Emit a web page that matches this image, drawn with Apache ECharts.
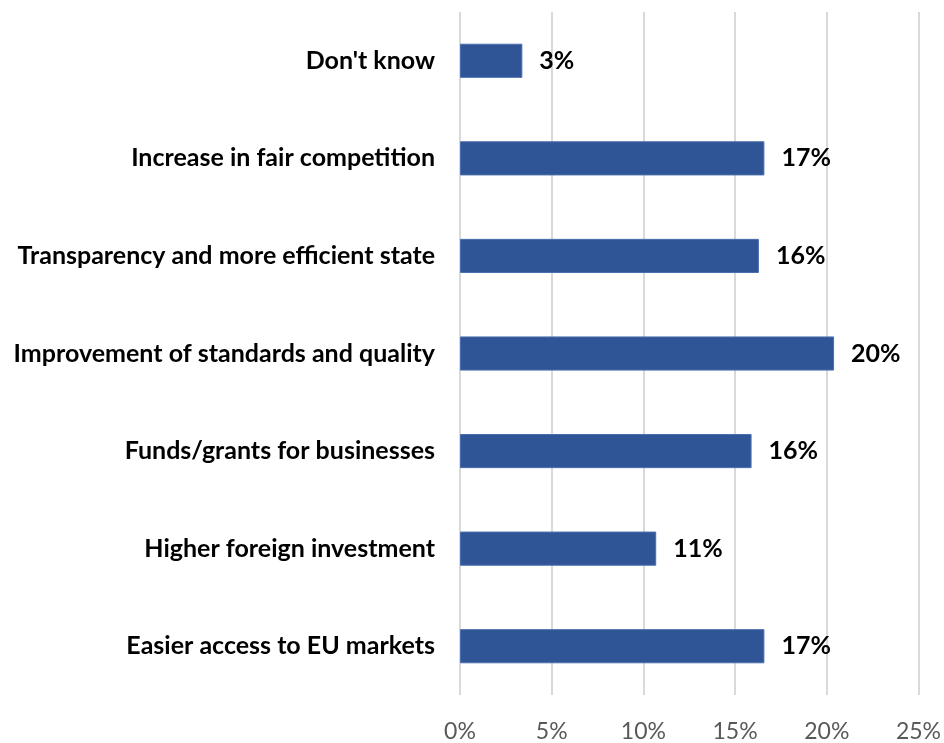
<!DOCTYPE html>
<html>
<head>
<meta charset="utf-8">
<script src="https://cdn.jsdelivr.net/npm/echarts@6/dist/echarts.min.js"></script>
<style>
  html, body { margin: 0; padding: 0; background: #fff; }
  #chart { width: 944px; height: 743px; }
</style>
</head>
<body>
<div id="chart"></div>
<script>
// categories top to bottom
var categories = [
  "Don't know",
  'Increase in fair competition',
  'Transparency and more efficient state',
  'Improvement of standards and quality',
  'Funds/grants for businesses',
  'Higher foreign investment',
  'Easier access to EU markets'
];
// share of respondents, %
var values = [3.4, 16.6, 16.3, 20.4, 15.9, 10.7, 16.6];

var chart = echarts.init(document.getElementById('chart'));

var option = {
  animation: false,
  grid: { left: 460, right: 25, top: 12, bottom: 44 },
  xAxis: {
    type: 'value',
    min: 0,
    max: 25,
    interval: 5,
    axisLine: { show: false },
    axisTick: { show: false },
    axisLabel: {
      formatter: '{value}%',
      color: '#595959',
      fontFamily: 'Lato',
      fontSize: 23,
      margin: 25
    },
    splitLine: { lineStyle: { color: '#d9d9d9', width: 2 } }
  },
  yAxis: {
    type: 'category',
    inverse: true,
    data: categories,
    axisLine: { show: false },
    axisTick: { show: false },
    axisLabel: {
      color: '#000',
      fontFamily: 'Lato',
      fontWeight: 'bold',
      fontSize: 25,
      margin: 25
    }
  },
  series: [{
    type: 'bar',
    data: values,
    barWidth: '35%',
    itemStyle: { color: '#2f5597', borderColor: '#4a6fae', borderWidth: 1 },
    label: {
      show: true,
      position: 'right',
      distance: 17,
      color: '#000',
      fontFamily: 'Lato',
      fontWeight: 'bold',
      fontSize: 25,
      formatter: function (p) { return Math.round(p.value) + '%'; }
    }
  }]
};

chart.setOption(option);
</script>
</body>
</html>
